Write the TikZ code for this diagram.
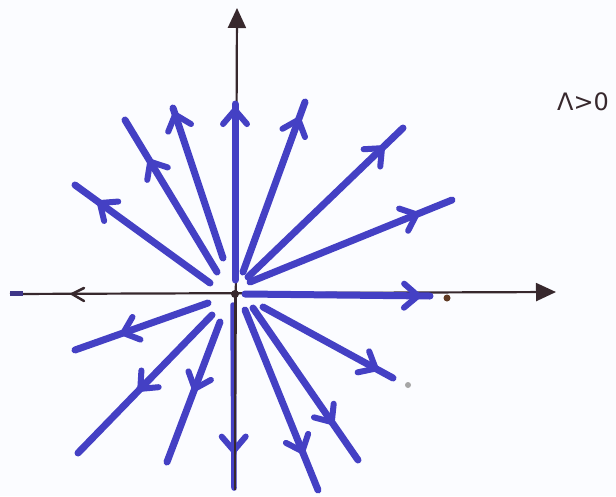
\documentclass[tikz,border=0pt]{standalone}
\usepackage{fontspec}
\newfontfamily\lblfont{DejaVu Sans}
\usetikzlibrary{arrows.meta,decorations.markings}
\definecolor{raycol}{RGB}{68,64,196}
\definecolor{axcol}{RGB}{55,40,45}
\definecolor{paper}{RGB}{251,252,255}
\tikzset{
  ray/.style={draw=raycol, line width=7pt, line cap=round},
  arrowat/.style={postaction={decorate}, decoration={markings,
    mark=at position #1 with {\draw[raycol, line width=6pt, line cap=round, line join=round] (-13,12) -- (1,0) -- (-13,-12);}}},
  axisline/.style={draw=axcol, line width=2.2pt, -{Triangle[length=20pt,width=18pt]}},
}
\begin{document}
\begin{tikzpicture}[x=1pt,y=-1pt]
\fill[paper] (0,0) rectangle (616,496);
\useasboundingbox (0,0) rectangle (616,496);
% axes
\coordinate (O) at (235,294);
\coordinate (xl) at (10,294);
\coordinate (xr) at (556,292);
\coordinate (yb) at (235,490);
\coordinate (yt) at (237,8);
\draw[axisline] (xl) -- (xr);
\draw[axisline] (yb) -- (yt);
% small left chevron on the axis
\coordinate (lc) at (72,294);
\draw[axcol, line width=2.5pt, line cap=round] ([shift={(12,-6)}]lc) -- (lc) -- ([shift={(12,7)}]lc);
\fill[raycol!60!axcol] (10,291) rectangle (23,296);
% ray endpoints
\coordinate (As) at (210,283); \coordinate (Ae) at (75,185);
\coordinate (Bs) at (217,272); \coordinate (Be) at (125,120);
\coordinate (Cs) at (223,258); \coordinate (Ce) at (173,108);
\coordinate (Us) at (235,280); \coordinate (Ue) at (235,104);
\coordinate (Ds) at (243,272); \coordinate (De) at (305,102);
\coordinate (Es) at (248,277); \coordinate (Ee) at (403,128);
\coordinate (Fs) at (250,282); \coordinate (Fe) at (452,200);
\coordinate (Rs) at (245,294); \coordinate (Re) at (430,296);
\coordinate (Gs) at (208,303); \coordinate (Ge) at (75,350);
\coordinate (Hs) at (212,315); \coordinate (He) at (78,453);
\coordinate (Is) at (220,322); \coordinate (Ie) at (167,462);
\coordinate (Ws) at (233,305); \coordinate (We) at (234,488);
\coordinate (Js) at (263,307); \coordinate (Je) at (393,378);
\coordinate (Ks) at (253,308); \coordinate (Ke) at (358,460);
\coordinate (Ls) at (245,310); \coordinate (Le) at (318,490);
% rays
\draw[ray, arrowat=0.81] (As) -- (Ae);
\draw[ray, arrowat=0.72] (Bs) -- (Be);
\draw[ray, arrowat=0.95] (Cs) -- (Ce);
\draw[ray, arrowat=0.96] (Us) -- (Ue);
\draw[ray, arrowat=0.89] (Ds) -- (De);
\draw[ray, arrowat=0.86] (Es) -- (Ee);
\draw[ray, arrowat=0.82] (Fs) -- (Fe);
\draw[ray, arrowat=0.93] (Rs) -- (Re);
\draw[ray, arrowat=0.63] (Gs) -- (Ge);
\draw[ray, arrowat=0.53] (Hs) -- (He);
\draw[ray, arrowat=0.47] (Is) -- (Ie);
\draw[ray, line width=5.5pt, arrowat=0.79] (Ws) -- (We);
\draw[ray, arrowat=0.86] (Js) -- (Je);
\draw[ray, arrowat=0.745] (Ks) -- (Ke);
\draw[ray, arrowat=0.78] (Ls) -- (Le);
% thin dark axis over the lower vertical ray
\draw[axcol, line width=2.2pt] (yb) -- (O);
% dots
\fill[axcol] (O) circle (4);
\fill[axcol!80!orange] (447,298) circle (3.5);
\fill[gray!70] (408,385) circle (3);
% label
\node[text=axcol, font=\lblfont\fontsize{24}{28}\selectfont, inner sep=0pt] (lbl) at (583,102) {Λ>0};
\end{tikzpicture}
\end{document}
